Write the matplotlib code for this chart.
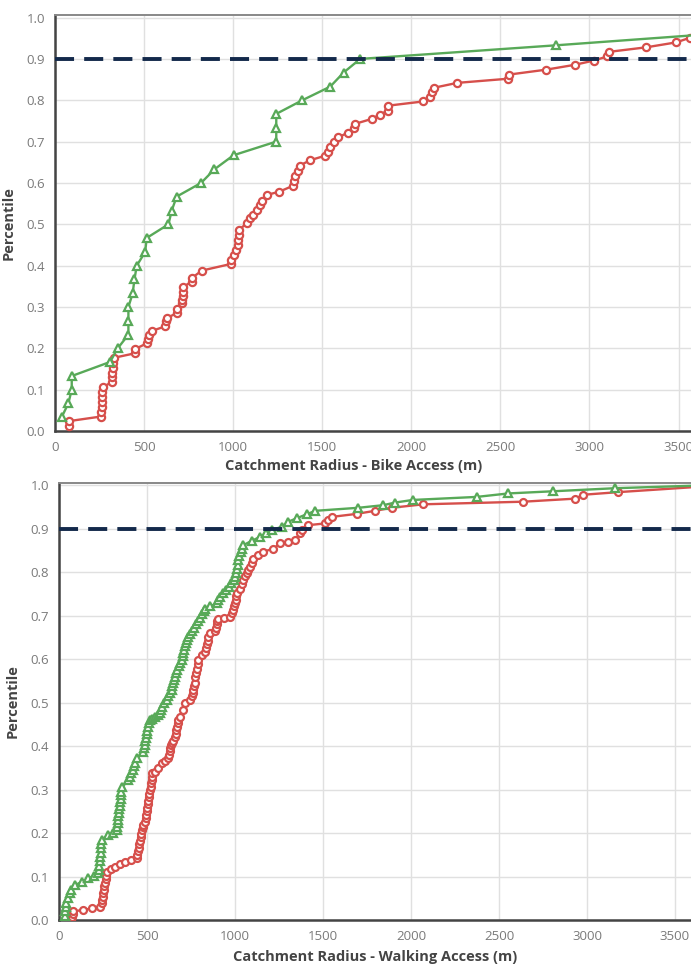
import matplotlib
matplotlib.use("Agg")
import matplotlib.pyplot as plt
import numpy as np

plt.rcParams['font.family'] = ['Open Sans', 'DejaVu Sans']

# --- data (distance in m, percentile) ---
bike_green = [
    (37, 0.033), (75, 0.067), (94, 0.100), (94, 0.133), (309, 0.167),
    (352, 0.200), (412, 0.233), (412, 0.267), (412, 0.300), (436, 0.333),
    (446, 0.367), (459, 0.400), (506, 0.433), (515, 0.467), (637, 0.500),
    (655, 0.533), (683, 0.567), (820, 0.600), (895, 0.633), (1002, 0.667),
    (1242, 0.700), (1242, 0.733), (1242, 0.767), (1388, 0.800), (1545, 0.833),
    (1620, 0.867), (1713, 0.900), (2815, 0.933), (3900, 0.967),
]

bike_red = [
    (80, 0.012), (80, 0.024), (258, 0.035), (260, 0.047), (262, 0.059),
    (263, 0.071), (265, 0.083), (266, 0.094), (268, 0.106), (318, 0.118),
    (320, 0.130), (322, 0.141), (324, 0.153), (326, 0.165), (330, 0.177),
    (449, 0.188), (449, 0.198), (515, 0.212), (520, 0.222), (530, 0.232),
    (543, 0.242), (618, 0.253), (622, 0.265), (626, 0.273), (683, 0.285),
    (686, 0.295), (712, 0.309), (714, 0.317), (716, 0.327), (718, 0.337),
    (720, 0.349), (768, 0.361), (771, 0.371), (824, 0.388), (987, 0.404),
    (987, 0.414), (1002, 0.426), (1017, 0.438), (1025, 0.450), (1030, 0.462),
    (1035, 0.474), (1035, 0.487), (1077, 0.503), (1092, 0.515), (1114, 0.523),
    (1133, 0.535), (1148, 0.547), (1163, 0.557), (1189, 0.571), (1260, 0.579),
    (1335, 0.593), (1339, 0.604), (1348, 0.616), (1363, 0.628), (1373, 0.642),
    (1433, 0.655), (1517, 0.666), (1535, 0.676), (1545, 0.688), (1564, 0.700),
    (1590, 0.710), (1645, 0.722), (1680, 0.733), (1685, 0.743), (1779, 0.755),
    (1822, 0.765), (1869, 0.775), (1872, 0.787), (2065, 0.797), (2107, 0.807),
    (2116, 0.819), (2125, 0.830), (2257, 0.842), (2541, 0.852), (2547, 0.862),
    (2757, 0.874), (2921, 0.886), (3024, 0.896), (3100, 0.906), (3108, 0.917),
    (3318, 0.928), (3487, 0.940), (3563, 0.951), (3750, 0.963),
]

walk_green = [
    (34, 0.000), (35, 0.010), (36, 0.020), (38, 0.030), (42, 0.040),
    (50, 0.050), (60, 0.062), (70, 0.070), (91, 0.080), (130, 0.088),
    (167, 0.096), (200, 0.102), (223, 0.108), (228, 0.115), (230, 0.125),
    (232, 0.135), (234, 0.145), (236, 0.155), (238, 0.165), (240, 0.175),
    (243, 0.185), (280, 0.195), (305, 0.200), (328, 0.207), (332, 0.215),
    (334, 0.223), (336, 0.231), (338, 0.239), (340, 0.247), (342, 0.255),
    (345, 0.263), (348, 0.271), (350, 0.279), (352, 0.287), (355, 0.295),
    (358, 0.305), (394, 0.322), (403, 0.330), (410, 0.338), (418, 0.346),
    (425, 0.354), (433, 0.362), (443, 0.372), (479, 0.387), (482, 0.395),
    (486, 0.403), (490, 0.411), (494, 0.419), (498, 0.427), (502, 0.435),
    (506, 0.443), (510, 0.452), (515, 0.460), (530, 0.463), (545, 0.467),
    (560, 0.471), (574, 0.475), (580, 0.483), (586, 0.491), (598, 0.498),
    (612, 0.506), (620, 0.514), (630, 0.521), (640, 0.529), (644, 0.537),
    (648, 0.545), (654, 0.552), (659, 0.559), (664, 0.567), (672, 0.575),
    (680, 0.583), (690, 0.590), (697, 0.598), (702, 0.606), (706, 0.614),
    (710, 0.622), (716, 0.630), (722, 0.637), (728, 0.644), (735, 0.651),
    (745, 0.658), (758, 0.665), (768, 0.672), (778, 0.680), (790, 0.688),
    (800, 0.695), (812, 0.703), (822, 0.710), (830, 0.716), (860, 0.722),
    (896, 0.728), (905, 0.736), (915, 0.743), (934, 0.751), (950, 0.758),
    (965, 0.766), (980, 0.774), (992, 0.781), (1000, 0.789), (1005, 0.798),
    (1010, 0.807), (1015, 0.816), (1019, 0.828), (1025, 0.838), (1032, 0.846),
    (1040, 0.854), (1047, 0.862), (1095, 0.872), (1142, 0.881), (1175, 0.889),
    (1208, 0.897), (1265, 0.904), (1303, 0.916), (1351, 0.924), (1407, 0.933),
    (1455, 0.941), (1701, 0.948), (1843, 0.954), (1909, 0.960), (2010, 0.966),
    (2373, 0.973), (2553, 0.981), (2808, 0.986), (3159, 0.993), (3700, 1.000),
]

walk_red = [
    (70, 0.000), (75, 0.007), (78, 0.014), (81, 0.020), (138, 0.023),
    (190, 0.027), (233, 0.031), (243, 0.038), (246, 0.046), (249, 0.054),
    (252, 0.062), (255, 0.070), (258, 0.078), (262, 0.086), (265, 0.094),
    (268, 0.102), (271, 0.111), (295, 0.117), (318, 0.123), (345, 0.128),
    (375, 0.134), (410, 0.138), (441, 0.142), (445, 0.150), (448, 0.158),
    (452, 0.166), (456, 0.174), (460, 0.182), (464, 0.190), (468, 0.198),
    (472, 0.206), (477, 0.214), (479, 0.218), (489, 0.226), (492, 0.234),
    (496, 0.242), (499, 0.250), (502, 0.258), (505, 0.266), (508, 0.274),
    (511, 0.282), (514, 0.290), (518, 0.298), (521, 0.306), (524, 0.314),
    (526, 0.322), (528, 0.330), (530, 0.337), (545, 0.341), (565, 0.350),
    (583, 0.360), (600, 0.366), (621, 0.372), (624, 0.380), (628, 0.388),
    (632, 0.396), (636, 0.402), (642, 0.406), (650, 0.412), (659, 0.420),
    (663, 0.428), (667, 0.436), (671, 0.444), (674, 0.452), (676, 0.460),
    (688, 0.467), (702, 0.482), (716, 0.498), (744, 0.506), (756, 0.514),
    (760, 0.522), (764, 0.530), (767, 0.538), (770, 0.546), (773, 0.559),
    (778, 0.568), (782, 0.578), (787, 0.588), (792, 0.598), (811, 0.609),
    (830, 0.617), (836, 0.626), (840, 0.634), (844, 0.642), (848, 0.651),
    (858, 0.659), (886, 0.664), (890, 0.672), (895, 0.680), (899, 0.688),
    (903, 0.693), (940, 0.695), (972, 0.697), (983, 0.705), (988, 0.713),
    (993, 0.721), (998, 0.729), (1003, 0.737), (1007, 0.744), (1011, 0.751),
    (1028, 0.762), (1038, 0.772), (1047, 0.782), (1056, 0.790), (1066, 0.797),
    (1075, 0.805), (1085, 0.812), (1095, 0.822), (1104, 0.831), (1132, 0.840),
    (1161, 0.847), (1218, 0.854), (1256, 0.866), (1300, 0.870), (1341, 0.874),
    (1369, 0.889), (1379, 0.897), (1416, 0.908), (1511, 0.912), (1530, 0.920),
    (1549, 0.927), (1691, 0.934), (1795, 0.941), (1890, 0.948), (2070, 0.956),
    (2638, 0.962), (2932, 0.969), (2979, 0.978), (3178, 0.984), (3700, 0.998),
]

target_level = 0.9
x_ticks = [0, 500, 1000, 1500, 2000, 2500, 3000, 3500]
y_ticks = [0.0, 0.1, 0.2, 0.3, 0.4, 0.5, 0.6, 0.7, 0.8, 0.9, 1.0]

GREEN = "#58a958"
RED = "#d64f4b"
NAVY = "#13294b"
AXIS = "#444444"
GRID = "#e0e0e0"
TICK = "#7a7a7a"

W, H = 691, 967
fig = plt.figure(figsize=(W / 100, H / 100), dpi=100)
fig.patch.set_facecolor("white")


def make_axes(left, top, bottom, right=W):
    return fig.add_axes([left / W, 1 - bottom / H, (right - left) / W, (bottom - top) / H])


def style_axes(ax, xmax, xlabel, label_x, label_y):
    ax.set_xlim(0, xmax)
    ax.set_ylim(0, 1.005)
    ax.set_xticks(x_ticks)
    ax.set_yticks(y_ticks)
    ax.set_yticklabels([f"{v:.1f}" for v in y_ticks])
    ax.grid(True, color=GRID, linewidth=1.0)
    ax.set_axisbelow(True)
    ax.tick_params(length=0, labelsize=9.5, labelcolor=TICK, pad=7)
    for side in ["left", "bottom"]:
        ax.spines[side].set_color(AXIS)
        ax.spines[side].set_linewidth(1.8)
    ax.spines["top"].set_color("#888888")
    ax.spines["top"].set_linewidth(1.4)
    ax.spines["right"].set_visible(False)
    ax.set_xlabel(xlabel, fontsize=10.5, fontweight="bold", color=AXIS)
    ax.xaxis.set_label_coords(label_x, label_y)
    ax.set_ylabel("Percentile", fontsize=10.5, fontweight="bold", color=AXIS, labelpad=8)


def draw_series(ax, pts, color, marker, ms):
    arr = np.array(pts)
    ax.plot(arr[:, 0], arr[:, 1], color=color, linewidth=1.7, marker=marker,
            markersize=ms, markerfacecolor="white", markeredgecolor=color,
            markeredgewidth=1.6, zorder=3)


def draw_target(ax):
    ax.axhline(target_level, color=NAVY, linewidth=2.8, dashes=(4.9, 2.6),
               dash_capstyle="butt", zorder=4)


# top panel: bike access
ax1 = make_axes(55, 15.5, 431)
draw_series(ax1, bike_red, RED, "o", 5.2)
draw_series(ax1, bike_green, GREEN, "^", 6.2)
draw_target(ax1)
style_axes(ax1, 3570, "Catchment Radius - Bike Access (m)", 0.469, -0.068)

# bottom panel: walking access
ax2 = make_axes(59, 483, 920)
draw_series(ax2, walk_red, RED, "o", 5)
draw_series(ax2, walk_green, GREEN, "^", 5.6)
draw_target(ax2)
style_axes(ax2, 3591, "Catchment Radius - Walking Access (m)", 0.50, -0.068)

fig.savefig("out.png", dpi=100, facecolor="white")
